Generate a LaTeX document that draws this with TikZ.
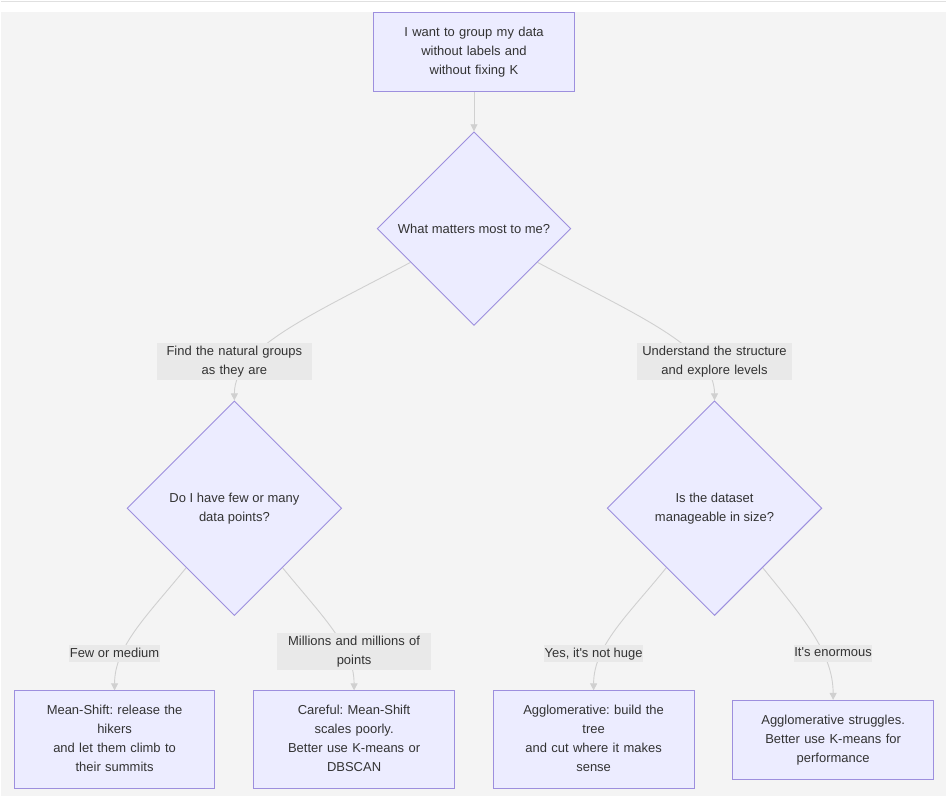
\documentclass[tikz,border=0pt]{standalone}
\usepackage{fontspec}
\setmainfont{Liberation Sans}[Ligatures=TeXOff]
\usepackage{tikz}
\usetikzlibrary{arrows.meta, positioning, shapes.geometric}
\usepackage{xcolor}
\definecolor{mmfill}{HTML}{ECECFF}
\definecolor{mmline}{HTML}{9D8FDE}
\definecolor{mmedge}{HTML}{D0D0D0}
\definecolor{mmlabel}{HTML}{E9E9E9}
\definecolor{mmback}{HTML}{F4F4F4}
\definecolor{mmtext}{HTML}{333333}
\pgfdeclarelayer{back}
\pgfdeclarelayer{edges}
\pgfsetlayers{back,edges,main}

\begin{document}
\frenchspacing
\begin{tikzpicture}[
    x=1pt, y=-1pt,
    every node/.style={font=\fontsize{13}{19}\selectfont, text=mmtext},
    stepbox/.style={rectangle, draw=mmline, fill=mmfill, line width=0.9pt,
                    text width=169pt, align=center, inner xsep=16pt, inner ysep=14.5pt,
                    execute at end node={\vphantom{g}}},
    question/.style={diamond, aspect=1, draw=mmline, fill=mmfill, line width=0.9pt,
                     minimum width=#1, minimum height=#1, inner sep=0pt, align=center},
    lbl/.style={rectangle, fill=mmlabel, inner xsep=0.5pt, inner ysep=2.5pt,
                text height=9.5pt, text depth=2.5pt, align=center},
    lbltwo/.style={rectangle, fill=mmlabel, inner sep=0pt, inner ysep=3pt,
                   text width=155pt, align=center},
    edge/.style={line width=0.9pt, mmedge},
    arrow/.style={edge, -{Triangle[width=7pt, length=7pt]}}
  ]
    % page background
    \begin{pgfonlayer}{back}
      \fill[white] (0,0) rectangle (947,12);
      \draw[line width=1.5pt, black!12] (0,1.5) -- (947,1.5);
      \fill[mmback] (0,12) rectangle (947,797);
    \end{pgfonlayer}

    \node[stepbox] (start) at (474,52.5) {I want to group my data\\without labels and\\without fixing K};
    \node[question=194pt, below=39pt of start] (matters) {What matters most to me?};

    \node[question=215pt] (howmany) at (234,509) {Do I have few or many\\data points?};
    \node[question=215pt, right=265pt of howmany] (howbig) {Is the dataset\\manageable in size?};
    \node[lbltwo, above=20pt of howmany] (natural) {Find the natural groups\\as they are};
    \node[lbltwo, above=20pt of howbig] (structure) {Understand the structure\\and explore levels};

    \node[stepbox] (meanshift) at (114,741) {Mean-Shift: release the\\hikers\\and let them climb to\\their summits};
    \node[stepbox, right=38pt of meanshift] (careful) {Careful: Mean-Shift\\scales poorly.\\Better use K-means or\\DBSCAN};
    \node[stepbox, right=38pt of careful] (agglo) {Agglomerative: build the\\tree\\and cut where it makes\\sense};
    \node[stepbox, right=38pt of agglo] (struggles) {Agglomerative struggles.\\Better use K-means for\\performance};

    \node[lbl, above=28pt of meanshift] (few) {Few or medium};
    \node[lbltwo, above=20pt of careful] (millions) {Millions and millions of\\points};
    \node[lbl, above=28pt of agglo] (nothuge) {Yes, it's not huge};
    \node[lbl, above=38pt of struggles] (enormous) {It's enormous};

    \begin{pgfonlayer}{edges}
      \draw[arrow] (start) -- (matters);
      \draw[arrow] (matters) to[out=208, in=90, out looseness=1.3, in looseness=0.6] (howmany);
      \draw[arrow] (matters) to[out=332, in=90, out looseness=1.3, in looseness=0.6] (howbig);
      \draw[arrow] (howmany) to[out=231, in=90, out looseness=1.1, in looseness=0.8] (meanshift);
      \draw[arrow] (howmany) to[out=309, in=90, out looseness=1.1, in looseness=0.8] (careful);
      \draw[arrow] (howbig) to[out=231, in=90, out looseness=1.1, in looseness=0.8] (agglo);
      \draw[arrow] (howbig) to[out=309, in=90, out looseness=1.1, in looseness=0.8] (struggles);
    \end{pgfonlayer}
\end{tikzpicture}
\end{document}
